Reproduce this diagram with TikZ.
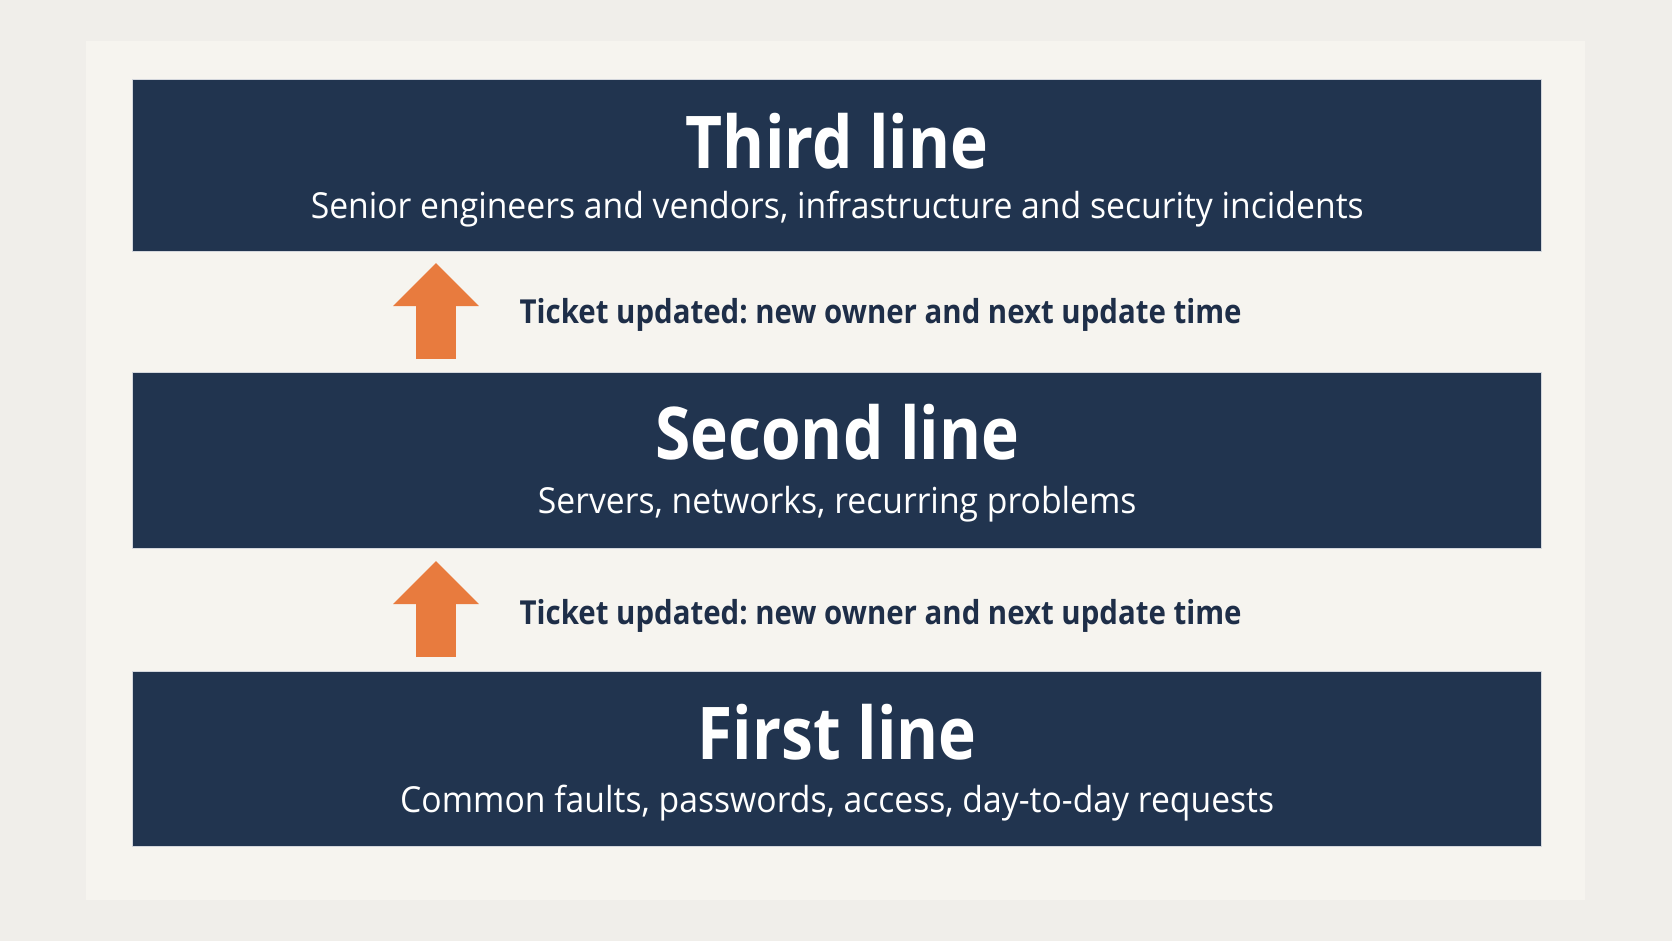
\documentclass[tikz,border=0pt]{standalone}
\usepackage{fontspec}
\setmainfont{Open Sans}[FakeStretch=0.94]
\newfontfamily\titlefont{Open Sans}[FakeStretch=0.88]
\newfontfamily\handofffont{Open Sans}[FakeStretch=0.89]
\frenchspacing
\usetikzlibrary{calc, positioning, arrows.meta}
\definecolor{PageGrey}{RGB}{240, 238, 234}
\definecolor{PanelCream}{RGB}{246, 244, 239}
\definecolor{DeskNavy}{RGB}{33, 52, 79}
\definecolor{TicketOrange}{RGB}{232, 123, 62}
\definecolor{InkNavy}{RGB}{30, 46, 72}
\tikzset{
    tier/.style={fill=DeskNavy, draw=white!80!DeskNavy, line width=0.4pt, minimum width=14.09cm, anchor=north west, inner sep=0pt},
    tiertitle/.style={anchor=base, text=white, font=\titlefont\fontsize{20.7}{24}\selectfont\bfseries},
    tiernote/.style={anchor=base, text=white, font=\fontsize{10.2}{12}\selectfont},
    handoff/.style={anchor=base west, inner sep=0pt, text=InkNavy, font=\handofffont\fontsize{9.4}{11}\selectfont\bfseries},
    escalate/.style={-{Triangle[width=0.83cm, length=0.43cm]}, TicketOrange, line width=0.40cm}
}
\begin{document}
\begin{tikzpicture}
    % Fondo
    \fill[PageGrey] (0,0) rectangle (16.72,-9.41);
    \fill[PanelCream] (0.86,-0.41) rectangle (15.85,-9.00);
    \useasboundingbox (0,0) rectangle (16.72,-9.41);

    % Third line
    \node[tier, minimum height=1.72cm] (third) at (1.32,-0.79) {};
    \node[tiertitle] (thirdtitle) at ($(third.north)+(0,-0.89)$) {Third line};
    \node[tiernote] (thirdnote) at ($(third.north)+(0,-1.39)$) {Senior engineers and vendors, infrastructure and security incidents};

    % Second line
    \node[tier, minimum height=1.76cm] (second) at (1.32,-3.72) {};
    \node[tiertitle] (secondtitle) at ($(second.north)+(0,-0.87)$) {Second line};
    \node[tiernote] (secondnote) at ($(second.north)+(0,-1.41)$) {Servers, networks, recurring problems};

    % First line
    \node[tier, minimum height=1.75cm] (first) at (1.32,-6.71) {};
    \node[tiertitle] (firsttitle) at ($(first.north)+(0,-0.88)$) {First line};
    \node[tiernote] (firstnote) at ($(first.north)+(0,-1.41)$) {Common faults, passwords, access, day-to-day requests};

    % Flechas
    \coordinate (foot1) at (4.36,-3.59);
    \coordinate (tip1) at (4.36,-2.63);
    \draw[escalate] (foot1) -- (tip1);
    \node[handoff] (handup) at (5.19,-3.23) {Ticket updated: new owner and next update time};

    \coordinate (foot2) at (4.36,-6.57);
    \coordinate (tip2) at (4.36,-5.61);
    \draw[escalate] (foot2) -- (tip2);
    \node[handoff] (handlow) at (5.19,-6.24) {Ticket updated: new owner and next update time};
\end{tikzpicture}
\end{document}
